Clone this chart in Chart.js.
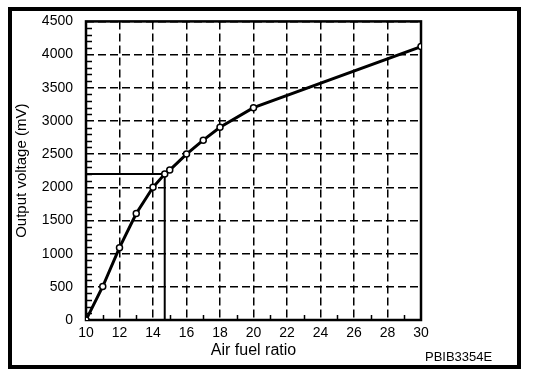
<!DOCTYPE html>
<html>
<head>
<meta charset="utf-8">
<script src="https://cdn.jsdelivr.net/npm/chart.js@4.4.0/dist/chart.umd.min.js"></script>
<style>
  body { margin: 0; background: #fff; }
  #wrap { position: relative; width: 560px; height: 378px; }
  #frame { position: absolute; left: 8px; top: 7px; width: 505px; height: 354px; border: 4px solid #000; pointer-events: none; }
  #code { position: absolute; left: 425px; top: 349px; font: 13px "Liberation Sans", Arial, sans-serif; color: #000; }
</style>
</head>
<body>
<div id="wrap">
  <canvas id="afrChart" width="560" height="378"></canvas>
  <div id="frame"></div>
  <div id="code">PBIB3354E</div>
</div>
<script>
// nilai
const airFuelRatio = [10, 11, 12, 13, 14, 14.7, 15, 16, 17, 18, 20, 30];
const outputVoltage = [0, 505, 1090, 1605, 2000, 2200, 2260, 2500, 2710, 2905, 3200, 4120];

// garis bantu di titik stoikiometri
const refRatio = [10, 14.7, 14.7];
const refVoltage = [2200, 2200, 0];

const xMin = 10, xMax = 30, xStep = 2;
const yMin = 0, yMax = 4500, yStep = 500;

const fontFamily = '"Liberation Sans", Arial, sans-serif';

// kotak area plot dan tick kecil
const plotFrame = {
    id: 'plotFrame',
    beforeDatasetsDraw(chart) {
        const { ctx, chartArea: a, scales } = chart;
        ctx.save();
        ctx.strokeStyle = '#000';
        ctx.lineWidth = 1.5;
        ctx.setLineDash([]);
        ctx.beginPath();
        for (let v = yMin + 100; v < yMax; v += 100) {
            if (v % yStep === 0) continue;
            const y = Math.round(scales.y.getPixelForValue(v)) + 0.5;
            ctx.moveTo(a.left, y);
            ctx.lineTo(a.left + 6, y);
        }
        for (let v = xMin + 1; v < xMax; v += 2) {
            const x = Math.round(scales.x.getPixelForValue(v)) + 0.5;
            ctx.moveTo(x, a.bottom);
            ctx.lineTo(x, a.bottom - 5);
        }
        ctx.stroke();
        ctx.lineWidth = 2.5;
        ctx.strokeRect(a.left, a.top, a.right - a.left, a.bottom - a.top);
        ctx.restore();
    }
};

const ctx = document.getElementById('afrChart').getContext('2d');
new Chart(ctx, {
    type: 'line',
    data: {
        datasets: [{
            label: 'Output voltage',
            data: airFuelRatio.map((x, i) => ({ x: x, y: outputVoltage[i] })),
            borderColor: '#000',
            borderWidth: 3,
            tension: 0,
            pointRadius: 3,
            pointBackgroundColor: '#fff',
            pointBorderColor: '#000',
            pointBorderWidth: 1.5
        }, {
            label: 'Reference',
            data: refRatio.map((x, i) => ({ x: x, y: refVoltage[i] })),
            borderColor: '#000',
            borderWidth: 2,
            pointRadius: 0,
            tension: 0
        }]
    },
    options: {
        responsive: false,
        animation: false,
        devicePixelRatio: 1,
        layout: { padding: { left: 0, top: 19, right: 139, bottom: 0 } },
        plugins: { legend: { display: false }, tooltip: { enabled: false } },
        scales: {
            x: {
                type: 'linear',
                min: xMin,
                max: xMax,
                afterFit(scale) { scale.height = 58; },
                ticks: {
                    stepSize: xStep,
                    color: '#000',
                    padding: 5,
                    maxRotation: 0,
                    callback: v => String(v),
                    font: { family: fontFamily, size: 14 }
                },
                grid: { color: '#000', lineWidth: 1.5, drawTicks: false },
                border: { display: false, dash: [8, 4] },
                title: {
                    display: true,
                    text: 'Air fuel ratio',
                    color: '#000',
                    font: { family: fontFamily, size: 16 },
                    padding: { top: 0, bottom: 18 }
                }
            },
            y: {
                min: yMin,
                max: yMax,
                afterFit(scale) { scale.width = 86; },
                ticks: {
                    stepSize: yStep,
                    color: '#000',
                    padding: 13,
                    callback: v => String(v),
                    font: { family: fontFamily, size: 14 }
                },
                grid: { color: '#000', lineWidth: 1.5, drawTicks: false },
                border: { display: false, dash: [8, 4] },
                title: {
                    display: true,
                    text: 'Output voltage (mV)',
                    color: '#000',
                    font: { family: fontFamily, size: 15 },
                    padding: { top: 13, bottom: 0 }
                }
            }
        }
    },
    plugins: [plotFrame]
});
</script>
</body>
</html>
